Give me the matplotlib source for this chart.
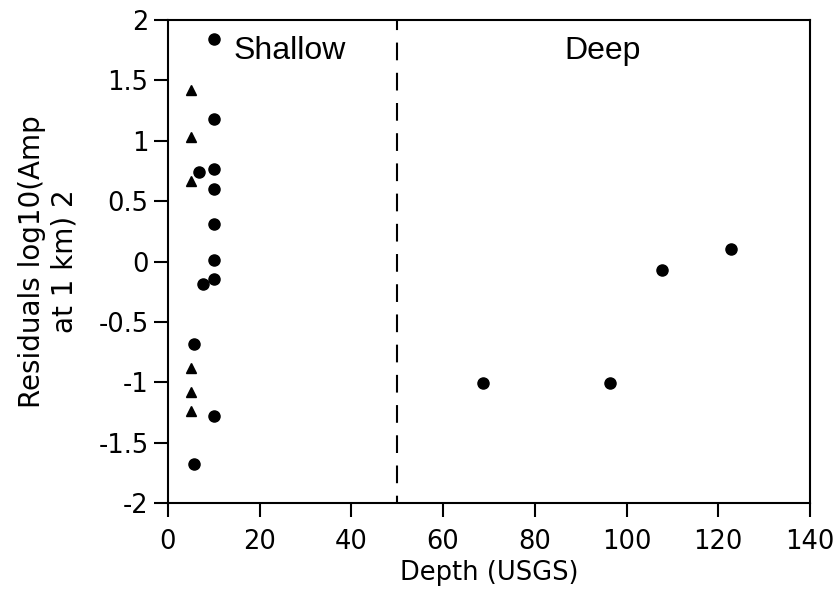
import matplotlib
matplotlib.use("Agg")
import matplotlib.pyplot as plt

plt.rcParams['font.family'] = ['DejaVu Sans']

circle_depth = [10, 10, 6.8, 10, 10, 10, 10, 10, 7.6, 5.7, 10, 5.7, 68.6, 96.5, 107.7, 122.7]
circle_resid = [1.84, 1.18, 0.74, 0.77, 0.60, 0.31, 0.01, -0.145, -0.19, -0.68, -1.28, -1.68, -1.01, -1.01, -0.07, 0.10]
tri_depth = [5, 5, 5, 5, 5, 5]
tri_resid = [1.42, 1.03, 0.67, -0.88, -1.08, -1.24]

xticks = [0, 20, 40, 60, 80, 100, 120, 140]
yticks = [-2, -1.5, -1, -0.5, 0, 0.5, 1, 1.5, 2]
ytick_labels = ['-2', '-1.5', '-1', '-0.5', '0', '0.5', '1', '1.5', '2']
boundary = 50

fig = plt.figure(figsize=(8.37, 5.89), dpi=100)
ax = fig.add_axes([0.2007, 0.146, 0.767, 0.820])

ax.plot(circle_depth, circle_resid, 'o', color='black', markersize=8, linestyle='none')
ax.plot(tri_depth, tri_resid, '^', color='black', markersize=6.5, linestyle='none')
ax.axvline(boundary, color='black', linestyle=(5, (8.5, 6)), linewidth=1.5)

ax.set_xlim(0, 140)
ax.set_ylim(-2, 2)
ax.set_xticks(xticks)
ax.set_xticklabels([str(t) for t in xticks])
ax.set_yticks(yticks)
ax.set_yticklabels(ytick_labels)
ax.tick_params(direction='out', length=10, width=1.5, labelsize=18.5)
ax.tick_params(axis='x', pad=9)
ax.tick_params(axis='y', pad=4)
for s in ax.spines.values():
    s.set_linewidth(1.5)

ax.text(14.2, 1.677, 'Shallow', fontsize=23, ha='left', va='baseline',
        family=['Liberation Sans', 'DejaVu Sans'])
ax.text(94.7, 1.677, 'Deep', fontsize=23, ha='center', va='baseline',
        family=['Liberation Sans', 'DejaVu Sans'])

ax.set_xlabel('Depth (USGS)', fontsize=18.5, labelpad=3)
ax.set_ylabel('Residuals log10(Amp\nat 1 km) 2', fontsize=20, labelpad=14)

fig.savefig('out.png', dpi=100)
